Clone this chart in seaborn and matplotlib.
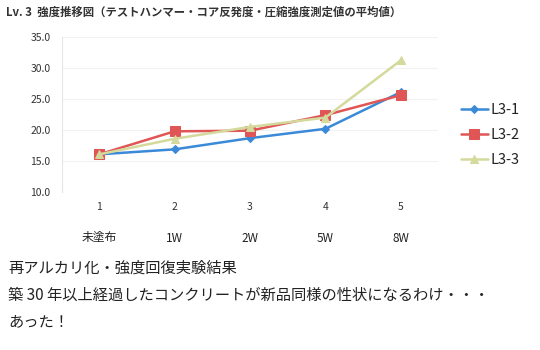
import matplotlib
matplotlib.use("Agg")
import matplotlib.pyplot as plt
import matplotlib.transforms as mtransforms
import seaborn as sns
import pandas as pd

sns.set_theme(style="white")
plt.rcParams['font.family'] = ['Noto Sans CJK JP', 'DejaVu Sans']

# data
steps = [1, 2, 3, 4, 5]
stage_labels = ["未塗布", "1W", "2W", "5W", "8W"]
l3_1 = [16.1, 16.9, 18.7, 20.2, 26.1]
l3_2 = [16.1, 19.8, 19.9, 22.4, 25.6]
l3_3 = [16.1, 18.6, 20.5, 22.0, 31.2]
series_names = ["L3-1", "L3-2", "L3-3"]
y_ticks = [10.0, 15.0, 20.0, 25.0, 30.0, 35.0]

title = "Lv. 3  強度推移図（テストハンマー・コア反発度・圧縮強度測定値の平均値）"
notes = [
    "再アルカリ化・強度回復実験結果",
    "築 30 年以上経過したコンクリートが新品同様の性状になるわけ・・・",
    "あった！",
]

df = pd.DataFrame({
    "step": steps * 3,
    "value": l3_1 + l3_2 + l3_3,
    "series": sum([[n] * len(steps) for n in series_names], []),
})

colors = {"L3-1": "#3b8ad8", "L3-2": "#e05555", "L3-3": "#d4d99c"}
markers = {"L3-1": "D", "L3-2": "s", "L3-3": "^"}
msizes = {"L3-1": 4.5, "L3-2": 6.5, "L3-3": 5.5}

fig = plt.figure(figsize=(5.4, 3.5), dpi=100)
ax = fig.add_axes([0.114, 0.4506, 0.698, 0.4445])

for name in series_names:
    sub = df[df.series == name]
    sns.lineplot(data=sub, x="step", y="value", ax=ax, color=colors[name],
                 marker=markers[name], markersize=msizes[name],
                 markeredgecolor=colors[name], linewidth=1.8, label=name)

ax.set_xlim(0.5, 5.5)
ax.set_ylim(10, 35)
ax.set_yticks(y_ticks)
ax.set_yticklabels([f"{v:.1f}" for v in y_ticks], fontsize=7.5, color="#333333")
ax.set_xticks(steps)
ax.set_xticklabels([str(s) for s in steps], fontsize=7.5, color="#333333")
ax.tick_params(axis="y", length=0, pad=8)
ax.tick_params(axis="x", length=0, pad=7)
ax.set_xlabel("")
ax.set_ylabel("")
ax.yaxis.grid(True, color="#f2f2f2", linewidth=0.8)
for side in ["top", "right", "bottom"]:
    ax.spines[side].set_visible(False)
ax.spines["left"].set_color("#e6e6e6")
ax.spines["left"].set_linewidth(0.8)

# stage names below the step numbers
trans = mtransforms.blended_transform_factory(ax.transData, fig.transFigure)
for s, lab in zip(steps, stage_labels):
    ax.text(s, 1 - 238 / 350, lab, transform=trans, ha="center", va="center",
            fontsize=8.5, color="#222222")

leg = ax.legend(loc="center left", bbox_to_anchor=(0.83, 1 - 135 / 350),
                bbox_transform=fig.transFigure, frameon=False,
                fontsize=10.5, handlelength=1.8, labelspacing=0.75,
                handletextpad=0.2)
for t in leg.get_texts():
    t.set_color("#222222")

fig.text(0.012, 1 - 12 / 350, title, fontsize=8.2, fontweight="bold",
         color="#333333", va="center", ha="left")

for i, line in enumerate(notes):
    fig.text(0.015, 1 - (268 + 27 * i) / 350, line, fontsize=11,
             color="#222222", va="center", ha="left")

fig.savefig("out.png", dpi=100, facecolor="white")
